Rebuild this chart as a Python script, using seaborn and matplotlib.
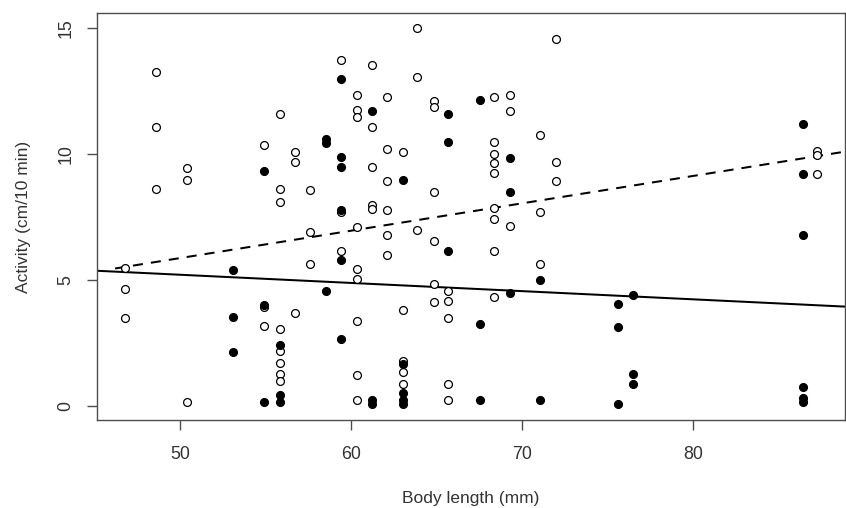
import numpy as np
import pandas as pd
import seaborn as sns
import matplotlib
matplotlib.use("Agg")
import matplotlib.pyplot as plt

# ---------------- data ----------------
# open circles: body length -> activity values
open_x = [46.78] * 3 + [48.61] * 3 + [50.41] * 3 + [54.9] * 3 + [55.85] * 8 + \
    [56.73] * 3 + [57.58] * 3 + [59.42] * 3 + [60.35] * 9 + [61.21] * 5 + \
    [62.09] * 6 + [63.02] * 5 + [63.88] * 3 + [64.84] * 6 + [65.69] * 5 + \
    [68.38] * 9 + [69.32] * 3 + [71.05] * 3 + [72.0] * 3 + [87.29] * 3
open_y = [5.48, 4.66, 3.52,
          13.29, 11.08, 8.63,
          9.45, 8.99, 0.19,
          10.37, 3.94, 3.19,
          11.6, 8.63, 8.13, 3.06, 2.2, 1.74, 1.29, 1.01,
          10.09, 9.71, 3.7,
          8.58, 6.94, 5.67,
          13.75, 7.7, 6.17,
          12.36, 11.77, 11.5, 7.11, 5.47, 5.06, 3.39, 1.25, 0.25,
          13.56, 11.09, 9.5, 7.99, 7.82,
          12.28, 10.23, 8.95, 7.81, 6.82, 6.0,
          10.09, 3.84, 1.8, 1.37, 0.88,
          15.02, 13.06, 6.99,
          12.12, 11.9, 8.5, 6.58, 4.85, 4.16,
          4.57, 4.2, 3.52, 0.88, 0.25,
          12.28, 10.5, 10.01, 9.64, 9.28, 7.86, 7.45, 6.17, 4.33,
          12.36, 11.73, 7.14,
          10.77, 7.73, 5.67,
          14.57, 9.71, 8.95,
          10.14, 9.98, 9.21]

# filled circles
filled_x = [53.12] * 3 + [54.9] * 3 + [55.85] * 3 + [58.52] * 3 + [59.42] * 6 + \
    [61.21] * 3 + [63.02] * 5 + [65.69] * 3 + [67.52] * 3 + [69.32] * 3 + \
    [71.05] * 2 + [75.63] * 3 + [76.51] * 3 + [86.43] * 6
filled_y = [5.42, 3.56, 2.15,
            9.36, 4.03, 0.19,
            2.43, 0.47, 0.19,
            10.6, 10.45, 4.58,
            13.0, 9.89, 9.52, 7.8, 5.8, 2.68,
            11.73, 0.25, 0.1,
            8.99, 1.67, 0.55, 0.25, 0.1,
            11.6, 10.5, 6.17,
            12.16, 3.29, 0.25,
            9.86, 8.49, 4.52,
            5.02, 0.25,
            4.07, 3.15, 0.11,
            4.42, 1.29, 0.88,
            11.22, 9.21, 6.8, 0.79, 0.33, 0.19]

# fitted lines (intercept, slope)
solid_a, solid_b = 6.85, -0.0325
dash_a, dash_b = 0.456, 0.1086
dash_x_start = 46.2

x_ticks = [50, 60, 70, 80]
y_ticks = [0, 5, 10, 15]
x_label = "Body length (mm)"
y_label = "Activity (cm/10 min)"

# ---------------- plotting ----------------
sns.set_style("ticks")
plt.rcParams["font.family"] = ["Liberation Sans", "DejaVu Sans"]

df_open = pd.DataFrame({"length": open_x, "activity": open_y})
df_filled = pd.DataFrame({"length": filled_x, "activity": filled_y})

fig = plt.figure(figsize=(8.46, 5.08), dpi=100)
ax = fig.add_axes([0.115, 0.1732, 0.8838, 0.8006])

sns.scatterplot(data=df_open, x="length", y="activity", ax=ax,
                marker="o", s=32, facecolor="white", edgecolor="black",
                linewidth=0.9, zorder=3)
sns.scatterplot(data=df_filled, x="length", y="activity", ax=ax,
                marker="o", s=32, color="black", edgecolor="black",
                linewidth=0.9, zorder=3)

xlim = (45.16, 88.9)
ax.set_xlim(xlim)
ax.set_ylim(-0.54, 15.6)

xs = np.array(xlim)
sns.lineplot(x=xs, y=solid_a + solid_b * xs, ax=ax, color="black",
             linewidth=1.45, zorder=2)
xd = np.array([dash_x_start, xlim[1]])
ax.plot(xd, dash_a + dash_b * xd, color="black", linewidth=1.45,
        linestyle=(0, (5.0, 4.0)), zorder=2)

ax.set_xticks(x_ticks)
ax.set_yticks(y_ticks)
ax.set_xlabel(x_label, fontsize=12.5, color="#333333")
ax.set_ylabel(y_label, fontsize=12.5, color="#333333")
ax.xaxis.set_label_coords(0.5, -0.192)
ax.xaxis.label.set_va("center")
ax.yaxis.set_label_coords(-0.099, 0.5)
ax.yaxis.label.set_va("center")

for sp in ax.spines.values():
    sp.set_visible(True)
    sp.set_color("#4d4d4d")
    sp.set_linewidth(1.0)
ax.tick_params(axis="both", direction="out", length=7.4, width=1.0,
               color="#4d4d4d", labelsize=12.8, labelcolor="#333333")
ax.tick_params(axis="x", pad=11)
ax.tick_params(axis="y", pad=9, labelrotation=90)
for lab in ax.get_yticklabels():
    lab.set_va("center")

fig.savefig("out.png", dpi=100)
